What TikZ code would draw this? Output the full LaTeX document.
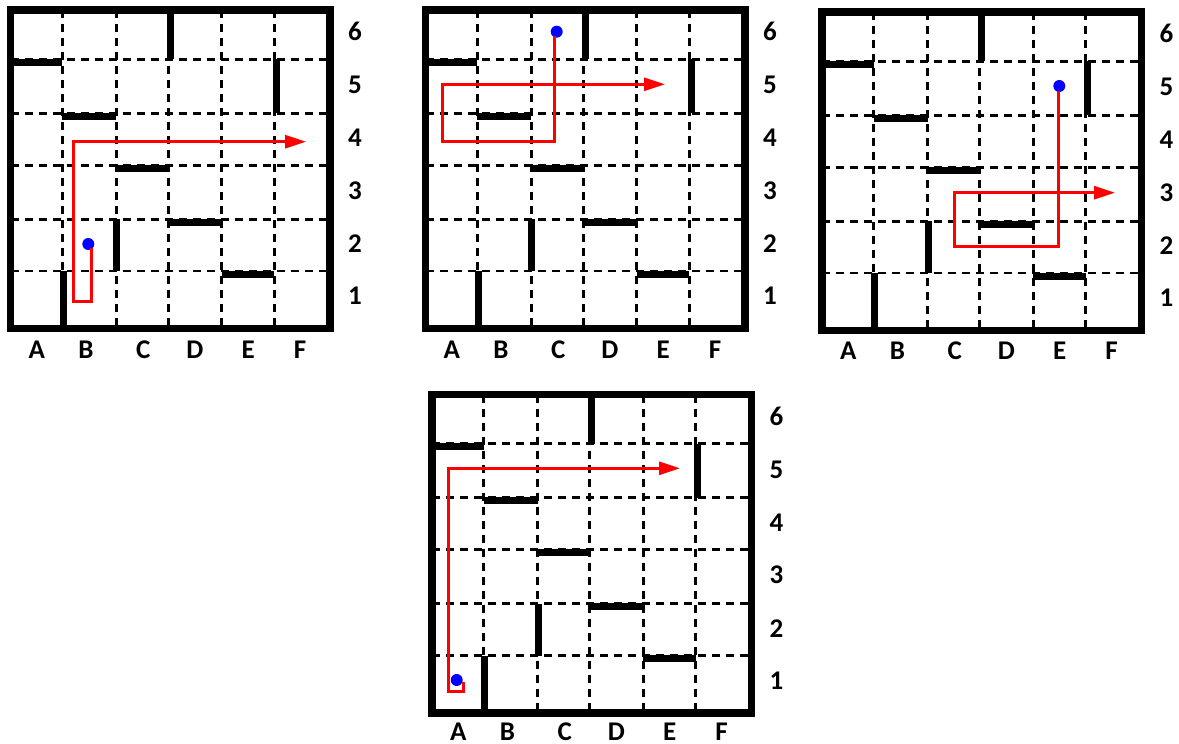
\documentclass[tikz,border=0pt]{standalone}
\usepackage{fontspec}
\setmainfont{Carlito}
\usetikzlibrary{arrows.meta}
\tikzset{
  grid line/.style={black, line width=2.7pt, dash pattern=on 8pt off 6pt},
  wall/.style={black, line width=7pt, line cap=butt},
  frame/.style={black, line width=7.2pt, line join=miter},
  lbl/.style={font=\fontsize{27}{27}\selectfont\bfseries, inner sep=0pt},
  route/.style={red, line width=3pt, line join=miter, -{Triangle[length=21pt,width=13pt]}},
  start/.style={circle, fill=blue, inner sep=0pt, minimum size=12pt},
}
\newcommand\mazepanel[3]{%
\begin{scope}[shift={(#1,#2)}]
  % dashed grid
  \foreach \yy in {59.3,113.3,165.3,219.3,271}
    \draw[grid line] (10.5,\yy) -- (330,\yy);
  \foreach \xx in {62.3,116.3,168.3,221.7,274.3}
    \draw[grid line] (\xx,10) -- (\xx,328.5);
  % walls
  \draw[wall] (170,10) -- (170,59.3);
  \draw[wall] (10.5,62.3) -- (62.3,62.3);
  \draw[wall] (276,59.3) -- (276,113.3);
  \draw[wall] (62.3,116.3) -- (116.3,116.3);
  \draw[wall] (116.3,168.3) -- (168.3,168.3);
  \draw[wall] (116.8,219.3) -- (116.8,271);
  \draw[wall] (168.3,222.3) -- (221.7,222.3);
  \draw[wall] (221.7,274) -- (274.3,274);
  \draw[wall] (63,271) -- (63,328.5);
  % frame
  \draw[frame] (10.5,10) rectangle (330,328.5);
  % labels
  \foreach \t/\xx in {A/36.7,B/86,C/143.3,D/195,E/248.3,F/300}
    \node[lbl] at (\xx,#3) {\t};
  \foreach \t/\yy in {6/31.7,5/85,4/138,3/190.7,2/244,1/296}
    \node[lbl] at (355,\yy) {\t};
\end{scope}}
\begin{document}
\begin{tikzpicture}[x=1pt,y=-1pt]
\useasboundingbox[fill=white] (0,0) rectangle (1179,744);
% panel 1
\mazepanel{0}{0}{350}
\begin{scope}
  \node[start] (s1) at (88.3,244) {};
  \coordinate (e1) at (306,141.7);
  \draw[route] (91.5,248) -- (91.5,301.7) -- (73,301.7) -- (73,141.7) -- (e1);
\end{scope}
% panel 2
\mazepanel{415}{0}{350}
\begin{scope}[shift={(415,0)}]
  \node[start] (s2) at (141.7,31.7) {};
  \coordinate (e2) at (250,84.3);
  \draw[route] (139,36) -- (139,141.7) -- (27.7,141.7) -- (27.7,84.3) -- (e2);
\end{scope}
% panel 3
\mazepanel{811.5}{2}{348.5}
\begin{scope}[shift={(811.5,2)}]
  \node[start] (s3) at (247.8,84) {};
  \coordinate (e3) at (303.5,190.7);
  \draw[route] (246.8,89) -- (246.8,244.7) -- (142.8,244.7) -- (142.8,190.7) -- (e3);
\end{scope}
% panel 4
\mazepanel{421.5}{384.5}{347}
\begin{scope}[shift={(421.5,384.5)}]
  \node[start] (s4) at (35.2,295.5) {};
  \coordinate (e4) at (258.5,83.8);
  \draw[route] (41.8,297.5) -- (41.8,306.5) -- (26.8,306.5) -- (26.8,83.8) -- (e4);
\end{scope}
\end{tikzpicture}
\end{document}
